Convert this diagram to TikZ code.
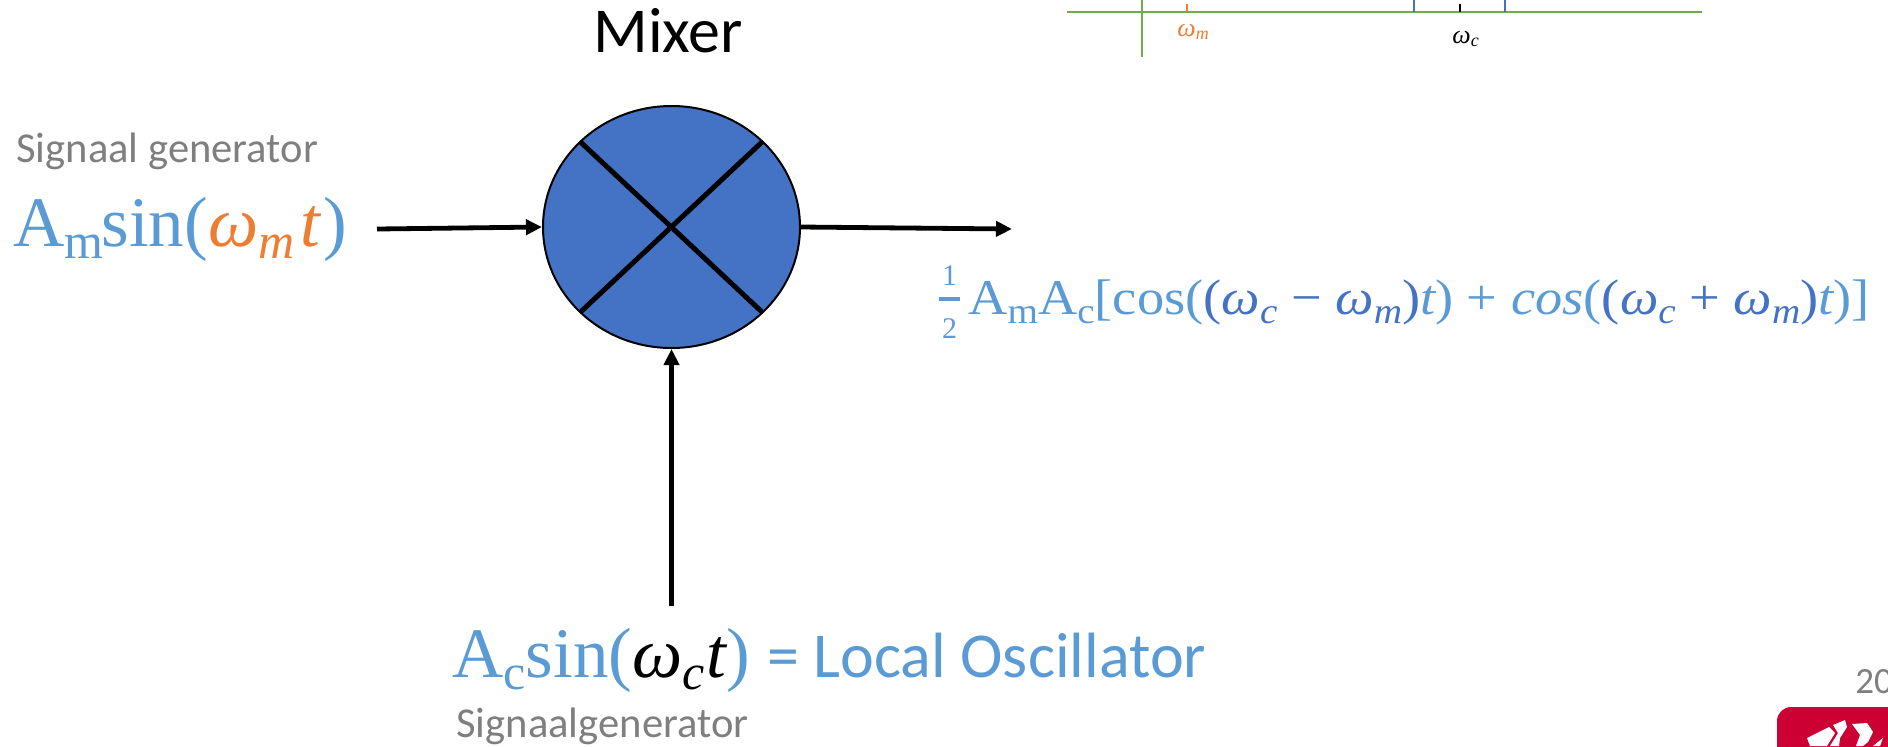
\documentclass[tikz,border=0pt]{standalone}
\usepackage{fontspec}
\setmainfont{Carlito}
\newfontfamily\mth{Liberation Serif}
\usetikzlibrary{arrows.meta,shapes.geometric}
\definecolor{lblue}{HTML}{5B9BD5}
\definecolor{dblue}{HTML}{4472C4}
\definecolor{org}{HTML}{ED7D31}
\definecolor{grn}{HTML}{70AD47}
\definecolor{gry}{HTML}{7F7F7F}
\definecolor{uni}{HTML}{CC0033}
\newcommand{\fs}[1]{\fontsize{#1}{#1}\selectfont}
\newcommand{\mi}[1]{{\mth\itshape #1}}
\newcommand{\mr}[1]{{\mth #1}}
\newcommand{\low}[2]{\raisebox{-#1}{#2}}
\newcommand{\bsb}[1]{\low{6pt}{\fs{25}#1}}
\newcommand{\rsb}[1]{\low{4.5pt}{\fs{18}#1}}
\tikzset{
  txt/.style={inner sep=0pt,anchor=base west},
  mid/.style={inner sep=0pt,anchor=base},
  flow/.style={draw=black,line width=2.4pt,-{Triangle[length=8pt,width=7.5pt]}},
  axis/.style={draw=grn,line width=1pt},
  tick/.style={line width=0.8pt},
  logoshape/.style={fill=white}
}
\begin{document}
\begin{tikzpicture}[x=0.5pt,y=-0.5pt]
\useasboundingbox (0,0) rectangle (1888,746);
% spectrum
\coordinate (axl) at (1067,12);
\coordinate (axr) at (1702,12);
\coordinate (vt) at (1142,0);
\coordinate (vb) at (1142,57);
\draw[axis] (axl) -- (axr);
\draw[axis] (vt) -- (vb);
\draw[draw=org,tick] (1187,4) -- (1187,12);
\draw[draw=dblue,tick] (1414,0) -- (1414,12);
\draw[draw=dblue,tick] (1505,0) -- (1505,12);
\draw[draw=black,tick] (1460,4) -- (1460,12);
\node[txt,text=org] (wm) at (1177,36) {\fs{13}\mi{ω}\low{1.5pt}{\fs{9}\mi{m}}};
\node[txt,text=black] (wc) at (1452,43) {\fs{13}\mi{ω}\low{1.5pt}{\fs{9}\mi{c}}};
% title
\node[txt] (mixer) at (593,52) {\fs{32}Mixer};
% mixer
\node[draw=black,line width=1pt,fill=dblue,ellipse,minimum width=128.5pt,minimum height=121pt,inner sep=0pt] (c) at (671.5,227) {};
\coordinate (d1) at (580.5,142);
\coordinate (d2) at (762,312);
\coordinate (d3) at (762,142);
\coordinate (d4) at (580.5,312);
\draw[line width=2.5pt] (d1) -- (d2);
\draw[line width=2.5pt] (d3) -- (d4);
% connectors
\coordinate (in) at (377,229);
\coordinate (out) at (1012,229);
\coordinate (lo) at (671.5,606);
\draw[flow] (in) -- (c.west);
\draw[flow] (c.east) -- (out);
\draw[flow] (lo) -- (c.south);
% labels
\node[txt,text=gry] (sg1) at (16,162) {\fs{21.3}Signaal generator};
\node[txt,text=lblue] (am) at (13,246) {\fs{35.5}\mr{A}\bsb{\mr{m}}\kern-1pt\mr{sin(}\textcolor{org}{\mi{ω}\bsb{\mi{m}}\kern3pt\mi{t}}\kern1.5pt\mr{)}};
\node[txt,text=lblue] (ac) at (452,677) {\fs{35.5}\mr{A}\bsb{\mr{c}}\mr{sin(}\textcolor{black}{\mi{ω}\bsb{\mi{c}}\kern1pt\mi{t}}\mr{)}};
\node[txt,text=lblue] (lo2) at (767,677) {\fs{32}= Local Oscillator};
\node[txt,text=gry] (sg2) at (456,737) {\fs{21.3}Signaalgenerator};
\node[mid,text=lblue] (fa) at (949.5,285) {\fs{15}\mr{1}};
\node[mid,text=lblue] (fb) at (949.5,338) {\fs{15}\mr{2}};
\draw[draw=lblue,line width=1.8pt] (939,299) -- (960,299);
\node[txt,text=lblue] (res) at (968,314) {\scalebox{1.088}[1]{\fs{25}\mr{A}\rsb{\mr{m}}\mr{A}\rsb{\mr{c}}\mr{[cos(}\textcolor{dblue}{\mr{(}\mi{ω}\rsb{\mi{c}}\mr{ − }\mi{ω}\rsb{\mi{m}}\mr{)}}\mi{t}\mr{) + }\mi{cos}\mr{(}\textcolor{dblue}{\mr{(}\mi{ω}\rsb{\mi{c}}\mr{ + }\mi{ω}\rsb{\mi{m}}\mr{)}}\mi{t}\mr{)]}}};
\node[txt,text=gry] (pg) at (1855,693) {\fs{18.5}20};
% logo
\fill[uni,rounded corners=7pt] (1777,707) rectangle (1900,760);
\fill[logoshape] (1807,738) -- (1829,727) -- (1835,733) -- (1827,746) -- (1810,746) -- cycle;
\fill[logoshape] (1833,725) -- (1845,720) -- (1847,727) -- (1840,738) -- (1839,746) -- (1830,746) -- (1838,733) -- cycle;
\fill[logoshape] (1852,724) -- (1867,723) -- (1873,732) -- (1868,742) -- (1863,746) -- (1856,746) -- (1860,735) -- cycle;
\fill[logoshape] (1873,746) -- (1883,738) -- (1880,746) -- cycle;
\end{tikzpicture}
\end{document}
